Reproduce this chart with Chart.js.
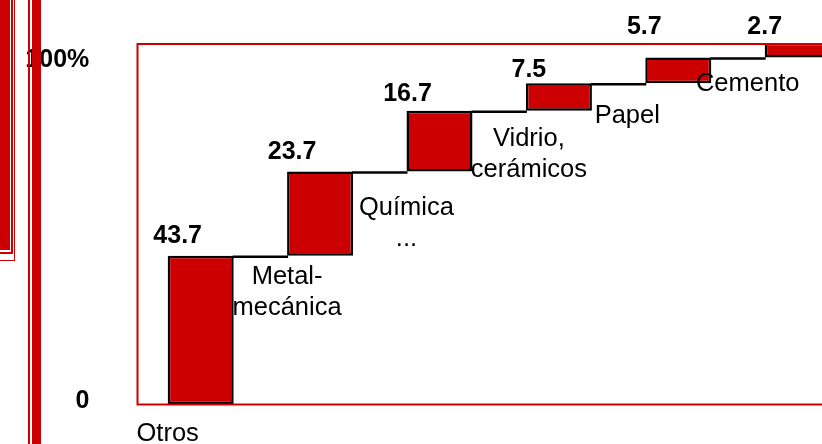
<!DOCTYPE html>
<html lang="es">
<head>
<meta charset="UTF-8">
<title>Participación por sector</title>
<script src="https://cdn.jsdelivr.net/npm/chart.js"></script>
<style>
  body { margin: 0; width: 822px; height: 444px; overflow: hidden; background: #fff; position: relative; }
  #chart { position: absolute; left: 0; top: 0; }
  .deco { position: absolute; box-sizing: border-box; }
</style>
</head>
<body>
<canvas id="chart" width="870" height="444"></canvas>
<!-- trozos del marco de la diapositiva, a la izquierda -->
<div class="deco" style="left:0;top:0;width:10px;height:250px;background:#cc0000"></div>
<div class="deco" style="left:-10px;top:-10px;width:23px;height:264px;border-right:2px solid #cc0000;border-bottom:2px solid #cc0000"></div>
<div class="deco" style="left:-10px;top:-10px;width:25px;height:271px;border-right:1px solid #cc0000;border-bottom:1px solid #cc0000"></div>
<div class="deco" style="left:28px;top:0;width:2px;height:444px;background:#cc0000"></div>
<div class="deco" style="left:32px;top:0;width:9px;height:444px;background:#cc0000"></div>

<script>
    // Datos
    const categories = ['Otros', ['Metal-', 'mecánica'], ['Química', '...'], ['Vidrio,', 'cerámicos'], 'Papel', 'Cemento'];
    // participación impresa sobre cada barra (%)
    const shares = [43.7, 23.7, 16.7, 7.5, 5.7, 2.7];
    // tope acumulado de cada escalón tal como está dibujado (el original no está a escala)
    const drawnTops = [43.1, 67.6, 85.3, 93.3, 100.8, 105];
    const yTickValues = [0, 100];
    const yTickLabels = ['0', '100%'];

    // barras flotantes: cada una empieza donde termina la anterior
    const steps = drawnTops.map((top, i) => [i === 0 ? 0 : drawnTops[i - 1], top]);

    const FONT = '"Liberation Sans", Arial, sans-serif';
    const RED = '#cc0000';

    // conectores, marco rojo y textos
    const stepDecor = {
        id: 'stepDecor',
        afterDatasetsDraw(chart, args, opts) {
            const { ctx, chartArea: area, scales: { y } } = chart;
            const bars = chart.getDatasetMeta(0).data;
            ctx.save();

            ctx.strokeStyle = '#000';
            ctx.lineWidth = 2.5;
            ctx.beginPath();
            for (let i = 0; i < bars.length - 1; i++) {
                const yy = y.getPixelForValue(drawnTops[i]) + 1;
                ctx.moveTo(bars[i].x + bars[i].width / 2 - 1, yy);
                ctx.lineTo(bars[i + 1].x - bars[i + 1].width / 2 + 1, yy);
            }
            ctx.stroke();

            ctx.strokeStyle = RED;
            ctx.lineWidth = 2;
            ctx.strokeRect(area.left - 3.5, area.top + 1, chart.width, area.bottom - area.top - 0.5);

            ctx.fillStyle = '#000';
            ctx.textBaseline = 'middle';
            ctx.font = 'bold 25px ' + FONT;

            // etiquetas del eje y
            ctx.textAlign = 'right';
            yTickValues.forEach((v, i) => {
                ctx.fillText(yTickLabels[i], area.left - opts.yLabelGap, y.getPixelForValue(v) + opts.yLabelShift[i]);
            });

            ctx.textAlign = 'center';
            bars.forEach((bar, i) => {
                const [dx, dy] = opts.valueShift[i];
                ctx.fillText(shares[i].toFixed(1), bar.x + dx, bar.y + dy);
            });

            ctx.font = '25.5px ' + FONT;
            bars.forEach((bar, i) => {
                const [dx, dy] = opts.nameShift[i];
                [].concat(categories[i]).forEach((t, k) => {
                    ctx.fillText(t, bar.x - bar.width / 2 + dx, bar.base + 30 + dy + k * opts.lineHeight);
                });
            });
            ctx.restore();
        }
    };

    new Chart(document.getElementById('chart'), {
        type: 'bar',
        data: {
            labels: categories,
            datasets: [{
                data: steps,
                backgroundColor: RED,
                borderColor: '#000',
                borderWidth: 2.5,
                borderSkipped: false,
                inflateAmount: 0,
                categoryPercentage: 1,
                barPercentage: 0.553,
                clip: 0
            }]
        },
        options: {
            responsive: false,
            animation: false,
            layout: { padding: { top: 43, bottom: 40, left: 141, right: 12.6 } },
            plugins: {
                legend: { display: false },
                tooltip: { enabled: false },
                stepDecor: {
                    valueShift: [[-23, -20], [-28, -19], [-32, -17], [-30, -13], [-34, -30], [-33, -16]],
                    nameShift: [[0, 0], [0, -9], [0, 6], [3, -2], [-18, 3], [-17, -3]],
                    lineHeight: 31,
                    yLabelGap: 51.7,
                    yLabelShift: [-3, 0]
                }
            },
            scales: {
                x: { display: false },
                y: { display: false, min: 0, max: 105 }
            }
        },
        plugins: [stepDecor]
    });
</script>
</body>
</html>
